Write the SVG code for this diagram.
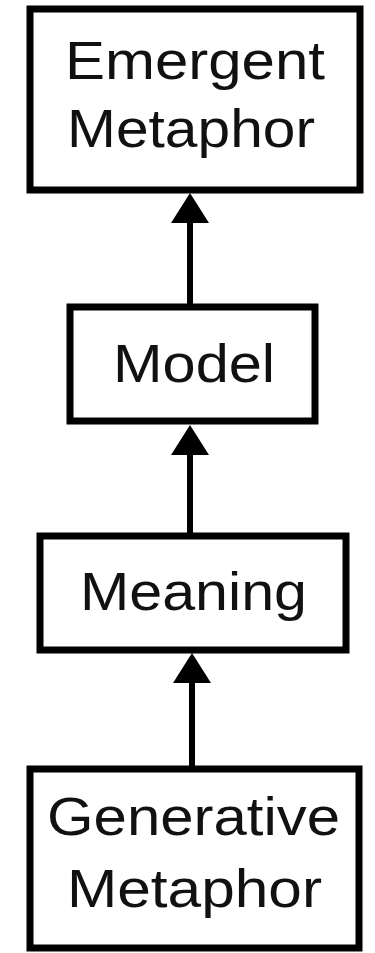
<svg xmlns="http://www.w3.org/2000/svg" width="375" height="953" viewBox="0 0 375 953">
<style>
.box{fill:#fff;stroke:#000;stroke-width:7}
.lbl{font-family:"Liberation Sans",Arial,sans-serif;font-size:54px;fill:#111}
.edge{stroke:#000;stroke-width:6;fill:none}
</style>
<defs>
<marker id="ah" viewBox="0 0 30 38" refX="0" refY="19" markerWidth="30" markerHeight="38" markerUnits="userSpaceOnUse" orient="auto">
<path d="M0,0 L30,19 L0,38 z" fill="#000"/>
</marker>
</defs>
<rect width="375" height="953" fill="#fff"/>
<g id="connectors">
<line class="edge" x1="190" y1="306" x2="190" y2="223" marker-end="url(#ah)"/>
<line class="edge" x1="190" y1="536" x2="190" y2="455" marker-end="url(#ah)"/>
<line class="edge" x1="192" y1="769" x2="192" y2="683" marker-end="url(#ah)"/>
</g>
<g id="emergent">
<rect class="box" x="30" y="9" width="330" height="181"/>
<text class="lbl" x="65" y="79" textLength="260" lengthAdjust="spacingAndGlyphs">Emergent</text>
<text class="lbl" x="67" y="147" textLength="248" lengthAdjust="spacingAndGlyphs">Metaphor</text>
</g>
<g id="model">
<rect class="box" x="70" y="307" width="245" height="114"/>
<text class="lbl" x="113" y="382" textLength="162" lengthAdjust="spacingAndGlyphs">Model</text>
</g>
<g id="meaning">
<rect class="box" x="40" y="536" width="306" height="114"/>
<text class="lbl" x="80" y="610" textLength="227" lengthAdjust="spacingAndGlyphs">Meaning</text>
</g>
<g id="generative">
<rect class="box" x="30" y="769" width="329" height="179"/>
<text class="lbl" x="47" y="835" textLength="293" lengthAdjust="spacingAndGlyphs">Generative</text>
<text class="lbl" x="67" y="907" textLength="255" lengthAdjust="spacingAndGlyphs">Metaphor</text>
</g>
</svg>
